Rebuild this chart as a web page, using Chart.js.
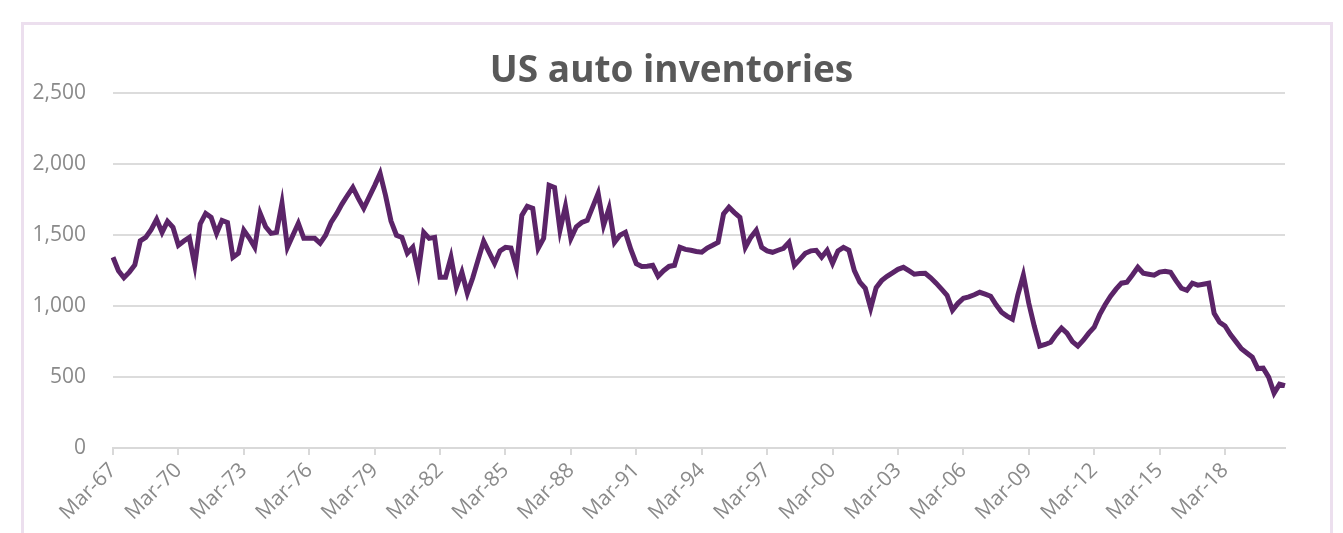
<!DOCTYPE html>
<html lang="en">
<head>
    <meta charset="UTF-8">
    <title>US auto inventories</title>
    <style>
        body {
            margin: 0;
            background: #ffffff;
            overflow: hidden;
        }

        .frame {
            position: absolute;
            left: 21px;
            top: 22px;
            width: 1306px;
            height: 540px;
            border: 3px solid #ecdfee;
        }

        #autoChart {
            position: absolute;
            left: 0;
            top: 0;
        }
    </style>
</head>
<body>
    <div class="frame"></div>
    <canvas id="autoChart" width="1343" height="533"></canvas>

    <script src="https://cdn.jsdelivr.net/npm/chart.js"></script>
    <script>
        // Quarterly series, Mar-67 .. Dec-20 (thousands of units)
        const firstYear = 1967;
        const lastYear = 2020;
        const quarterMonths = ['Mar', 'Jun', 'Sep', 'Dec'];
        const yTicks = [0, 500, 1000, 1500, 2000, 2500];

        const inventories = [
            1345, 1250, 1200, 1240, 1290, 1460, 1485, 1540,
            1612, 1520, 1598, 1556, 1430, 1460, 1485, 1288,
            1580, 1654, 1626, 1513, 1605, 1590, 1345, 1373,
            1535, 1480, 1415, 1654, 1560, 1513, 1520, 1725,
            1415, 1500, 1584, 1478, 1478, 1478, 1443, 1500,
            1590, 1650, 1720, 1780, 1837, 1760, 1690, 1770,
            1850, 1936, 1780, 1600, 1500, 1485, 1373, 1415,
            1239, 1520, 1478, 1485, 1204, 1204, 1345, 1133,
            1239, 1091, 1200, 1330, 1457, 1380, 1302, 1390,
            1415, 1410, 1274, 1640, 1704, 1690, 1408, 1478,
            1852, 1837, 1535, 1704, 1478, 1560, 1590, 1605,
            1700, 1795, 1570, 1690, 1450, 1500, 1520, 1400,
            1300, 1280, 1281, 1288, 1211, 1250, 1280, 1288,
            1415, 1400, 1394, 1385, 1380, 1410, 1429, 1450,
            1650, 1697, 1660, 1626, 1415, 1485, 1535, 1415,
            1390, 1380, 1394, 1408, 1450, 1288, 1330, 1373,
            1390, 1394, 1345, 1394, 1302, 1390, 1415, 1394,
            1250, 1170, 1126, 986, 1130, 1180, 1210, 1235,
            1260, 1274, 1250, 1225, 1230, 1232, 1200, 1162,
            1120, 1077, 972, 1020, 1056, 1065, 1080, 1098,
            1085, 1070, 1010, 957, 930, 908, 1080, 1218,
            1020, 860, 718, 730, 746, 800, 845, 810,
            750, 718, 760, 810, 852, 940, 1010, 1070,
            1120, 1162, 1169, 1220, 1274, 1232, 1225, 1218,
            1240, 1246, 1239, 1180, 1126, 1112, 1162, 1148,
            1155, 1162, 950, 887, 860, 800, 750, 700,
            670, 640, 560, 563, 500, 387, 450, 440
        ];

        const quarters = [];
        for (let y = firstYear; y <= lastYear; y++) {
            quarterMonths.forEach(m => quarters.push(m + '-' + String(y).slice(-2)));
        }

        const fontFamily = '"Open Sans", "Noto Sans", sans-serif';

        const ctx = document.getElementById('autoChart').getContext('2d');
        new Chart(ctx, {
            type: 'line',
            data: {
                labels: quarters,
                datasets: [{
                    label: 'US auto inventories',
                    data: inventories,
                    borderColor: '#5b2468',
                    borderWidth: 5,
                    pointRadius: 0,
                    tension: 0,
                    fill: false
                }]
            },
            options: {
                responsive: false,
                animation: false,
                layout: {
                    padding: 0
                },
                plugins: {
                    legend: { display: false },
                    tooltip: { enabled: false },
                    title: {
                        display: true,
                        text: 'US auto inventories',
                        color: '#595959',
                        font: { family: fontFamily, size: 37, weight: 'bold' },
                        padding: { top: 49, bottom: 0 }
                    }
                },
                scales: {
                    x: {
                        afterBuildTicks: scale => {
                            // one labelled tick every three years
                            scale.ticks = scale.ticks.filter(t => t.value % 12 === 0);
                        },
                        afterFit: scale => { scale.height = 85; },
                        ticks: {
                            autoSkip: false,
                            minRotation: 45,
                            maxRotation: 45,
                            padding: 3,
                            color: '#8a8a8a',
                            font: { family: fontFamily, size: 21 }
                        },
                        grid: {
                            drawOnChartArea: false,
                            tickLength: 7,
                            color: '#d9d9d9',
                            lineWidth: 2
                        },
                        border: { color: '#d9d9d9', width: 2 }
                    },
                    y: {
                        min: 0,
                        max: 2500,
                        afterBuildTicks: scale => {
                            scale.ticks = yTicks.map(v => ({ value: v }));
                        },
                        afterFit: scale => { scale.width = 113; },
                        ticks: {
                            padding: 27,
                            color: '#8a8a8a',
                            font: { family: fontFamily, size: 21 },
                            callback: v => v.toLocaleString('en-US')
                        },
                        grid: {
                            drawTicks: false,
                            color: '#dcdcdc',
                            lineWidth: 2
                        },
                        border: { display: false }
                    },
                    // empty right-hand axis: reserves the margin so the title stays centred
                    gap: {
                        position: 'right',
                        afterFit: scale => { scale.width = 58; },
                        ticks: { display: false },
                        grid: { display: false },
                        border: { display: false }
                    }
                }
            }
        });
    </script>
</body>
</html>
